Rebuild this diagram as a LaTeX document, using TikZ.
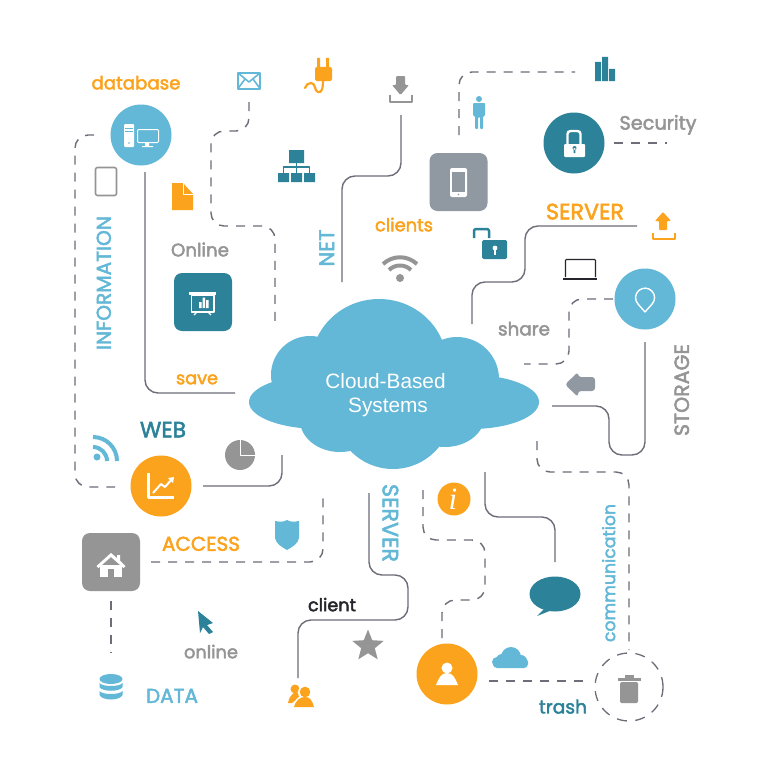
\documentclass[tikz,border=0pt]{standalone}
\usepackage{fontspec}
\usepackage{graphicx}
\usetikzlibrary{shapes.geometric}
\setmainfont{Liberation Sans}
\newfontfamily\labfont[FakeBold=2.4]{Poppins}
\definecolor{teal}{HTML}{2C8299}
\definecolor{sky}{HTML}{62B8D6}
\definecolor{amber}{HTML}{FBA31D}
\definecolor{stone}{HTML}{959595}
\definecolor{slate}{HTML}{9098A2}
\definecolor{wire}{HTML}{6D6E78}
\definecolor{ink}{HTML}{25252B}
\newcommand{\fitw}[2]{\resizebox{#1pt}{!}{\labfont\strut #2}}
\tikzset{
  solidwire/.style={draw=wire,line width=1.4pt,rounded corners=13pt},
  dashwire/.style={draw=wire,line width=1.4pt,rounded corners=13pt,dash pattern=on 9pt off 8pt},
  disc/.style={circle,inner sep=0pt,minimum size=61pt},
  tile/.style={rectangle,rounded corners=8pt,inner sep=0pt,minimum size=58pt},
  lab/.style={inner sep=0pt,outer sep=0pt},
}
\begin{document}
\begin{tikzpicture}[x=1pt,y=-1pt,line join=round]
\useasboundingbox[fill=white] (0,0) rectangle (768,768);
% ---------- main nodes
\node[disc,fill=sky]   (dbdisc)  at (141,135) {};
\node[disc,fill=teal]  (lockdisc) at (574,143) {};
\node[disc,fill=sky]   (pindisc) at (645,299) {};
\node[disc,fill=amber] (chartdisc) at (161,486) {};
\node[disc,fill=amber] (userdisc) at (447,674) {};
\node[tile,fill=teal]  (present) at (203,302) {};
\node[tile,fill=slate] (phone) at (458.5,182) {};
\node[tile,fill=stone] (home) at (111,562) {};
\node[circle,fill=amber,inner sep=0pt,minimum size=33pt,text=white] (info) at (454,499) {};
\node[text=white,inner sep=0pt,font=\fontsize{31}{31}\selectfont] (infoi) at (453,499) {\fontspec{Liberation Serif}\itshape i};
\node[circle,draw=wire,line width=1.3pt,dash pattern=on 10pt off 8.5pt,inner sep=0pt,minimum size=68pt] (trashring) at (629,687) {};
\node[star,star points=5,star point ratio=2.3,fill=stone,inner sep=0pt,minimum size=33pt] (star) at (368,646) {};
% ---------- cloud
\fill[sky] (379,365) ellipse [x radius=68,y radius=66]
  (310,375) circle [radius=39]
  (457,379) circle [radius=42]
  (320,402) ellipse [x radius=71,y radius=27]
  (471,402) ellipse [x radius=68,y radius=27]
  (340,420) ellipse [x radius=40,y radius=32]
  (393,410) circle [radius=59]
  (445,415) ellipse [x radius=40,y radius=32];
\node[lab,text=white,font=\fontsize{20.8}{24}\selectfont,align=center] (cloud) at (385.5,395) {Cloud-Based\\[0pt]\hspace*{5pt}Systems};
% ---------- connector ends
\coordinate (w1a) at (145,172); \coordinate (w1b) at (235,393);
\coordinate (w2a) at (401,115); \coordinate (w2b) at (342,282);
\coordinate (w3a) at (637,226); \coordinate (w3b) at (472,324);
\coordinate (w4a) at (645,342); \coordinate (w4b) at (552,406);
\coordinate (w5a) at (485,472); \coordinate (w5b) at (555,562);
\coordinate (w6a) at (369,493); \coordinate (w6b) at (298,678);
\coordinate (w7a) at (203,486); \coordinate (w7b) at (282,455);
\coordinate (d1a) at (94,135);  \coordinate (d1b) at (115,487);
\coordinate (d2a) at (249,102); \coordinate (d2b) at (275,327);
\coordinate (d3a) at (459,135); \coordinate (d3b) at (575,72);
\coordinate (d4a) at (614,143); \coordinate (d4b) at (667,143);
\coordinate (d5a) at (613,299); \coordinate (d5b) at (524,364);
\coordinate (d6a) at (537,441); \coordinate (d6b) at (629,650);
\coordinate (d7a) at (489,681); \coordinate (d7b) at (583,681);
\coordinate (d8a) at (442,638); \coordinate (d8b) at (423,487);
\coordinate (d9a) at (151,562); \coordinate (d9b) at (323,493);
\coordinate (d10a) at (111,601); \coordinate (d10b) at (111,653);
% ---------- solid connectors
\draw[solidwire] (w1a) |- (w1b);
\draw[solidwire] (w2a) |- (342,176) -- (w2b);
\draw[solidwire] (w3a) -| (525,282) -| (w3b);
\draw[solidwire] (w4a) |- (609,455) |- (w4b);
\draw[solidwire] (w5a) |- (555,517) -- (w5b);
\draw[solidwire] (w6a) |- (408,575) |- (298,620) -- (w6b);
\draw[solidwire] (w7a) -| (w7b);
% ---------- dashed connectors
\draw[dashwire] (d1a) -| (75,487) -- (d1b);
\draw[dashwire] (d2a) |- (211,131) |- (275,226) -- (d2b);
\draw[dashwire] (d3a) |- (d3b);
\draw[dashwire] (d4a) -- (d4b);
\draw[dashwire] (d5a) -| (569,364) -- (d5b);
\draw[dashwire] (d6a) |- (629,472) -- (d6b);
\draw[dashwire] (d7a) -- (d7b);
\draw[dashwire] (d8a) |- (485,600) |- (423,540) -- (d8b);
\draw[dashwire] (d9a) -| (d9b);
\draw[dashwire] (d10a) -- (d10b);
% ---------- labels
\node[lab,text=amber] (l1) at (136,85) {\fitw{89}{database}};
\node[lab,text=stone] (l2) at (200,252) {\fitw{58}{Online}};
\node[lab,text=amber] (l3) at (197,380) {\fitw{42}{save}};
\node[lab,text=sky,rotate=90] (l4) at (329,248) {\fitw{37}{NET}};
\node[lab,text=sky,rotate=90] (l5) at (106,283) {\fitw{134}{INFORMATION}};
\node[lab,text=amber] (l6) at (404,227) {\fitw{58}{clients}};
\node[lab,text=amber] (l7) at (585,214) {\fitw{78}{SERVER}};
\node[lab,text=stone] (l8) at (658,125) {\fitw{77}{Security}};
\node[lab,text=stone] (l9) at (524,331) {\fitw{52}{share}};
\node[lab,text=stone,rotate=90] (l10) at (684,390) {\fitw{92}{STORAGE}};
\node[lab,text=sky,rotate=90] (l11) at (611,573) {\fitw{138}{communication}};
\node[lab,text=teal] (l12) at (563,709) {\fitw{48}{trash}};
\node[lab,text=sky,rotate=-90] (l13) at (388,523) {\fitw{78}{SERVER}};
\node[lab,text=ink] (l14) at (332,607) {\fitw{48}{client}};
\node[lab,text=stone] (l15) at (211,654) {\fitw{54}{online}};
\node[lab,text=sky] (l16) at (172,698) {\fitw{52}{DATA}};
\node[lab,text=amber] (l17) at (201,546) {\fitw{78}{ACCESS}};
\node[lab,text=teal] (l18) at (163,432) {\fitw{46}{WEB}};
% ---------- icons: database disc
\fill[white,rounded corners=1pt] (124,124) rectangle (134,147);
\draw[sky,line width=.8pt] (125,128) -- (133,128) (125,131) -- (133,131);
\fill[sky] (129,143) circle [radius=.9];
\draw[white,line width=1pt,rounded corners=1pt] (137.5,129.5) rectangle (158.5,142.5);
\fill[white] (145,143) rectangle (149,146) (142,146) rectangle (153,147);
% mail
\draw[sky,line width=2pt] (238,73) rectangle (260,88.5);
\draw[sky,line width=1.6pt] (238,73) -- (249,82) -- (260,73) (238,88.5) -- (245,79) (260,88.5) -- (253,79);
% plug
\fill[amber] (317,58) rectangle (320,67) (326,58) rectangle (329,67);
\fill[amber,rounded corners=2pt] (315,67) -- (332,67) -- (332,81) -- (315,81) -- cycle;
\draw[amber,line width=2.2pt,line cap=round] (323,81) .. controls (323,88) and (322,93) .. (318,92) .. controls (314,91) and (316,83) .. (311,83) .. controls (308,83) and (306,85) .. (305,88);
% download
\fill[stone,rounded corners=1pt] (396,76) -- (405,76) -- (405,85) -- (409,85) -- (400.5,95) -- (392,85) -- (396,85) -- cycle;
\draw[stone,line width=2pt] (390,95) -- (390,102) -- (412,102) -- (412,95);
% hierarchy
\fill[teal] (289,150) rectangle (304,163) (278,173) rectangle (289,182) (291,173) rectangle (302,182) (304,173) rectangle (315,182);
\draw[teal,line width=1.1pt] (296.5,163) -- (296.5,173) (283.5,173) -- (283.5,167) -- (309.5,167) -- (309.5,173);
% tablet
\draw[stone,line width=1.6pt,rounded corners=2pt] (95.5,167.5) rectangle (116.5,195.5);
% document
\fill[amber] (172,183) -- (183,183) -- (193,194) -- (193,210) -- (172,210) -- cycle;
\draw[white,line width=.9pt] (183,183) -- (183,194) -- (193,194);
% presentation
\fill[white] (189,292) rectangle (216,295);
\draw[white,line width=1.2pt] (191.5,295) rectangle (214,312);
\draw[white,line width=1.2pt] (197,312) -- (194,315) (208,312) -- (211,315);
\fill[white] (199,302) rectangle (201.5,308) (202.5,297.5) rectangle (205,308) (206,300) rectangle (208.5,308);
% phone
\fill[white,rounded corners=2pt] (450,168) rectangle (467,197);
\fill[slate] (452,172) rectangle (465,192);
\fill[slate] (458.5,194.5) circle [radius=.9];
% person
\fill[sky] (479,99) circle [radius=3];
\fill[sky,rounded corners=1pt] (473,103) -- (485,103) -- (485,116) -- (483,116) -- (483,129) -- (480,129) -- (480,117) -- (478,117) -- (478,129) -- (475,129) -- (475,116) -- (473,116) -- cycle;
% bars
\fill[teal] (595,62) rectangle (601,81) (602,57) rectangle (608,81) (609,69) rectangle (615,81);
% lock
\draw[white,line width=2.4pt,rounded corners=3pt] (567.5,145) -- (567.5,131) -- (580.5,131) -- (580.5,145);
\fill[white,rounded corners=1pt] (564,144) rectangle (585,157);
\fill[teal] (574.5,148) circle [radius=2] (573.7,148) rectangle (575.3,153);
% wifi
\fill[stone] (400,278) circle [radius=4];
\draw[stone,line width=4pt] (389,270) .. controls (395,264) and (405,264) .. (411,270);
\draw[stone,line width=4pt] (383,264) .. controls (393,255) and (407,255) .. (417,264);
% open lock
\draw[teal,line width=2.5pt,rounded corners=2pt] (474,238) -- (474,229) -- (489,229) -- (489,238);
\fill[teal,rounded corners=1.5pt] (482,240) rectangle (507,259);
\fill[white] (495,248) circle [radius=2.4];
\fill[white] (494,248) rectangle (496,254.5);
% upload
\fill[amber,rounded corners=.8pt] (663,212) -- (671,221) -- (667,221) -- (667,230) -- (659,230) -- (659,221) -- (655,221) -- cycle;
\draw[amber,line width=2pt] (653,233) -- (653,239) -- (675,239) -- (675,233);
% laptop
\draw[ink,line width=1.1pt,rounded corners=.8pt] (565.5,277) -- (565.5,259.5) -- (595.5,259.5) -- (595.5,277);
\fill[ink] (563,277.5) rectangle (597,279.5);
% pin
\draw[white,line width=1.4pt,fill=sky] (645,312) -- (638,304) arc[start angle=138,end angle=402,radius=9.5] -- cycle;
% left arrow
\fill[slate,rounded corners=3pt] (565,384.5) -- (578,372) -- (578,377) -- (595,377) -- (595,391) -- (578,391) -- (578,397) -- cycle;
% rss
\fill[sky] (97,457) circle [radius=3.5];
\draw[sky,line width=4pt] (93,447) arc[start angle=-90,end angle=0,radius=14];
\draw[sky,line width=4pt] (93,437) arc[start angle=-90,end angle=0,radius=24];
% chart
\draw[white,line width=2.6pt] (148.5,473) -- (148.5,497.5) -- (174,497.5);
\draw[white,line width=2pt] (153,493) -- (161,484) -- (165,487) -- (172,479);
\fill[white] (174,477) -- (168,478) -- (173,483) -- cycle;
% pie
\fill[stone] (240,455) circle [radius=15];
\draw[white,line width=1pt] (240,440) -- (240,455) -- (255,455);
% shield
\fill[sky] (275,521) .. controls (280,522) and (284,522) .. (287,520) .. controls (290,522) and (294,522) .. (299,521) -- (299,538) .. controls (298,544) and (292,547) .. (287,550) .. controls (282,547) and (276,544) .. (275,538) -- cycle;
% home
\fill[white] (100,565) rectangle (122,577);
\fill[stone] (108,569) rectangle (114,577);
\fill[white] (96.5,566) -- (111,553) -- (117,558) -- (117,555) -- (120,555) -- (120,560.5) -- (125.5,566) -- (123.5,568) -- (111,557) -- (98.5,568) -- cycle;
% cursor
\fill[teal] (198,611) -- (213,623) -- (207,625) -- (213,632) -- (209,634) -- (203,627) -- (200,633) -- cycle;
% data
\fill[sky] (111,679) ellipse [x radius=11.5,y radius=5];
\fill[sky] (99.5,683) .. controls (102,687) and (120,687) .. (122.5,683) -- (122.5,687) .. controls (120,692) and (102,692) .. (99.5,687) -- cycle;
\fill[sky] (99.5,691) .. controls (102,695) and (120,695) .. (122.5,691) -- (122.5,695) .. controls (120,701) and (102,701) .. (99.5,695) -- cycle;
% group
\fill[amber] (295,689) circle [radius=4.5];
\fill[amber] (288,703) .. controls (289,698) and (291,695) .. (294,693) -- (299,693) -- (300,697) -- (292,703) -- cycle;
\fill[white] (305,692.5) circle [radius=7];
\fill[white] (292,708) .. controls (295,699) and (299,695) .. (305,695) -- (305,708) -- cycle;
\fill[amber] (305,692) circle [radius=5.3];
\fill[amber] (294,707) .. controls (296,700) and (300,697) .. (305,697) .. controls (310,697) and (312,700) .. (314,707) -- cycle;
% user
\fill[white] (447,668) circle [radius=5.5];
\fill[white] (436,685) .. controls (439,678) and (441,673) .. (447,673) .. controls (453,673) and (455,678) .. (458,685) -- cycle;
% speech bubble
\fill[teal] (555,594) ellipse [x radius=25.5,y radius=17.5];
\fill[teal] (546,607) -- (537,616) -- (552,610) -- cycle;
% small cloud
\fill[sky,rounded corners=4pt] (493,668) rectangle (528,658);
\fill[sky] (511,657) circle [radius=10] (502,660) circle [radius=6] (521,661) circle [radius=6];
\fill[sky] (497,662) circle [radius=5];
% trash
\fill[stone] (618,678) rectangle (641,681);
\fill[stone] (625,675) rectangle (634,678);
\fill[stone,rounded corners=1.5pt] (620,682) rectangle (638,703);
\end{tikzpicture}
\end{document}
